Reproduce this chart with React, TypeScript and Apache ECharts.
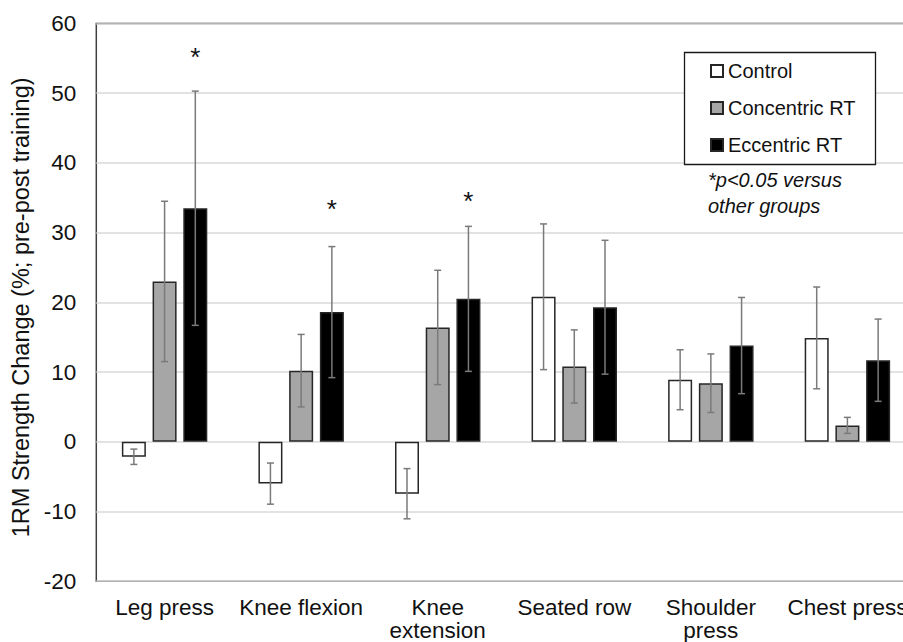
import React, { useEffect, useRef } from "react";
import * as echarts from "echarts";

const categories = ["Leg press", "Knee flexion", "Knee\nextension", "Seated row", "Shoulder\npress", "Chest press"];
const seriesNames = ["Control", "Concentric RT", "Eccentric RT"];

const controlMean = [-2.15, -6.0, -7.45, 20.8, 8.9, 14.9];
const controlSd = [1.1, 2.95, 3.6, 10.45, 4.3, 7.3];
const concentricMean = [23.0, 10.2, 16.4, 10.8, 8.4, 2.35];
const concentricSd = [11.5, 5.2, 8.2, 5.25, 4.2, 1.15];
const eccentricMean = [33.5, 18.6, 20.5, 19.3, 13.8, 11.7];
const eccentricSd = [16.8, 9.4, 10.4, 9.6, 6.9, 5.9];
// height (in % units) of the "*" significance marks above the eccentric bars
const eccentricSigY = [55.6, 33.8, 35.0, null, null, null];

const FONT = "'Liberation Sans', Arial, Helvetica, sans-serif";
const BAR_W = 24;
const GAP_RATIO = 0.28;
const STEP = BAR_W * (1 + GAP_RATIO);
const barColors = ["#ffffff", "#a6a6a6", "#000000"];

function makeErrorSeries(means: number[], sds: number[], groupIndex: number, sig?: (number | null)[]) {
  const offset = (groupIndex - 1) * STEP;
  return {
    type: "custom",
    name: "err" + groupIndex,
    z: 5,
    silent: true,
    encode: { x: 0, y: 1 },
    data: means.map((m, i) => [i, m, sds[i], sig && sig[i] != null ? sig[i] : NaN]),
    renderItem: (params: any, api: any) => {
      const i = api.value(0);
      const m = api.value(1);
      const sd = api.value(2);
      const s = api.value(3);
      const c = api.coord([i, m]);
      const x = c[0] + offset;
      const yTop = api.coord([i, m + sd])[1];
      const yBot = api.coord([i, m - sd])[1];
      const cap = 3.5;
      const lineStyle = { stroke: "#7a7a7a", lineWidth: 1.5 };
      const children: any[] = [
        { type: "line", shape: { x1: x, y1: yTop, x2: x, y2: yBot }, style: lineStyle },
        { type: "line", shape: { x1: x - cap, y1: yTop, x2: x + cap, y2: yTop }, style: lineStyle },
        { type: "line", shape: { x1: x - cap, y1: yBot, x2: x + cap, y2: yBot }, style: lineStyle },
      ];
      if (!isNaN(s)) {
        const ys = api.coord([i, s])[1];
        children.push({
          type: "text",
          x: x,
          y: ys + 3,
          style: {
            text: "*",
            fontSize: 26,
            fontFamily: FONT,
            fill: "#111",
            align: "center",
            verticalAlign: "middle",
          },
        });
      }
      return { type: "group", children };
    },
  };
}

export default function App() {
  const ref = useRef<HTMLDivElement>(null);
  useEffect(() => {
    if (!ref.current) return;
    const chart = echarts.init(ref.current, null, { renderer: "svg" });
    const barBase = (name: string, data: number[], idx: number) => ({
      type: "bar",
      name,
      data,
      barWidth: BAR_W,
      barGap: GAP_RATIO * 100 + "%",
      z: 2,
      itemStyle: { color: barColors[idx], borderColor: "#262626", borderWidth: 1.5 },
    });
    chart.setOption({
      animation: false,
      backgroundColor: "#ffffff",
      textStyle: { fontFamily: FONT },
      grid: {
        left: 96.3,
        top: 23.5,
        right: -12.7,
        bottom: 60.8,
        containLabel: false,
        outerBoundsMode: "none",
        show: true,
        borderColor: "#404040",
        borderWidth: 1.5,
        backgroundColor: "transparent",
      },
      legend: {
        data: seriesNames,
        orient: "vertical",
        left: 710,
        top: 61,
        padding: 0,
        itemWidth: 12,
        itemHeight: 12,
        itemGap: 17,
        icon: "rect",
        z: 6,
        textStyle: { fontSize: 20, color: "#111", fontFamily: FONT },
      },
      xAxis: {
        type: "category",
        data: categories,
        axisLine: { show: false },
        axisTick: { show: false },
        axisLabel: { interval: 0, fontSize: 22.5, lineHeight: 23, color: "#111", margin: 14.5, fontFamily: FONT, hideOverlap: false },
        splitLine: { show: false },
      },
      yAxis: {
        type: "value",
        min: -20,
        max: 60,
        interval: 10,
        name: "1RM Strength Change (%; pre-post training)",
        nameLocation: "middle",
        nameGap: 63,
        nameTextStyle: { fontSize: 23.5, color: "#111", fontFamily: FONT, padding: [0, 10, 0, 0] },
        axisLine: { show: false },
        axisTick: { show: false },
        axisLabel: { fontSize: 22.5, color: "#111", margin: 20, fontFamily: FONT },
        splitLine: { show: true, lineStyle: { color: "#d9d9d9", width: 1.5 } },
      },
      graphic: [
        {
          type: "rect",
          z: 4,
          shape: { x: 684.5, y: 52.5, width: 191, height: 112 },
          style: { fill: "#ffffff", stroke: "#1a1a1a", lineWidth: 1.3 },
        },
        {
          type: "text",
          z: 4,
          left: 708,
          top: 167,
          style: {
            text: "*p<0.05 versus\nother groups",
            fontSize: 20,
            fontStyle: "italic",
            lineHeight: 26,
            fill: "#111",
            fontFamily: FONT,
          },
        },
      ],
      series: [
        barBase(seriesNames[0], controlMean, 0),
        barBase(seriesNames[1], concentricMean, 1),
        barBase(seriesNames[2], eccentricMean, 2),
        makeErrorSeries(controlMean, controlSd, 0),
        makeErrorSeries(concentricMean, concentricSd, 1),
        makeErrorSeries(eccentricMean, eccentricSd, 2, eccentricSigY),
      ],
    });
    return () => chart.dispose();
  }, []);
  return (
    <div
      ref={ref}
      style={{ position: "absolute", left: 0, top: 0, width: 903, height: 642, background: "#fff" }}
    />
  );
}
